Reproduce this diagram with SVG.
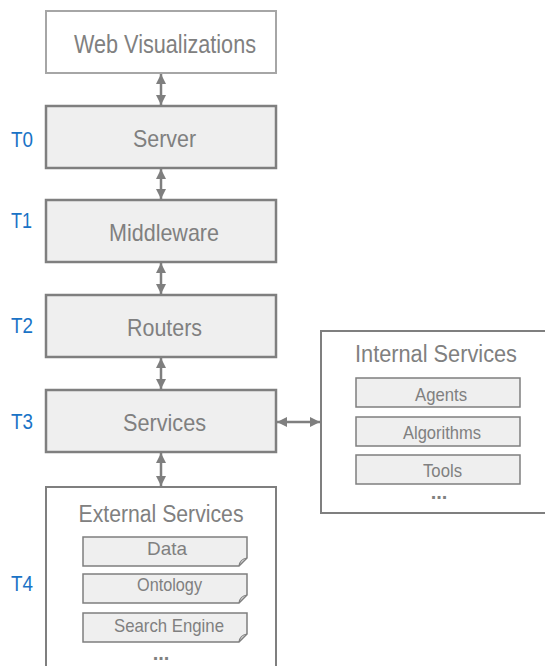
<svg xmlns="http://www.w3.org/2000/svg" width="545" height="666" viewBox="0 0 545 666">
  <style>
    .box { fill: #efefef; stroke: #7f7f7f; stroke-width: 2.5; }
    .frame { fill: #ffffff; stroke: #7f7f7f; stroke-width: 2; }
    .item { fill: #efefef; stroke: #7f7f7f; stroke-width: 1.5; }
    .fold { fill: none; stroke: #7f7f7f; stroke-width: 1.2; }
    .label { font-family: "Liberation Sans", Arial, sans-serif; fill: #808080; text-anchor: middle; }
    .tier { font-family: "Liberation Sans", Arial, sans-serif; fill: #1a73c6; font-size: 22px; }
    .conn { stroke: #7f7f7f; stroke-width: 2.5; fill: none; marker-start: url(#head); marker-end: url(#head); }
  </style>
  <defs>
    <marker id="head" viewBox="0 0 10 10" refX="10" refY="5" markerWidth="4" markerHeight="4" orient="auto-start-reverse" markerUnits="strokeWidth">
      <path d="M0,0 L10,5 L0,10 Z" fill="#7f7f7f"/>
    </marker>
  </defs>

  <!-- tier labels -->
  <g id="tiers">
    <text class="tier" x="11" y="147" textLength="22" lengthAdjust="spacingAndGlyphs">T0</text>
    <text class="tier" x="11" y="228" textLength="21" lengthAdjust="spacingAndGlyphs">T1</text>
    <text class="tier" x="11" y="333" textLength="22" lengthAdjust="spacingAndGlyphs">T2</text>
    <text class="tier" x="11" y="429" textLength="22" lengthAdjust="spacingAndGlyphs">T3</text>
    <text class="tier" x="11" y="591" textLength="22" lengthAdjust="spacingAndGlyphs">T4</text>
  </g>

  <!-- connectors -->
  <g id="connectors">
    <line class="conn" x1="161" y1="74" x2="161" y2="105"/>
    <line class="conn" x1="161" y1="169" x2="161" y2="199"/>
    <line class="conn" x1="161" y1="263" x2="161" y2="294"/>
    <line class="conn" x1="161" y1="358" x2="161" y2="389"/>
    <line class="conn" x1="161" y1="453" x2="161" y2="486"/>
    <line class="conn" x1="277" y1="422" x2="320" y2="422"/>
  </g>

  <g id="web">
    <rect x="46" y="11" width="230" height="62" fill="#ffffff" stroke="#a6a6a6" stroke-width="2"/>
    <text class="label" x="165" y="53" font-size="26" textLength="182" lengthAdjust="spacingAndGlyphs">Web Visualizations</text>
  </g>

  <g id="server">
    <rect class="box" x="46" y="106" width="230" height="62"/>
    <text class="label" x="164.5" y="147" font-size="24" textLength="63" lengthAdjust="spacingAndGlyphs">Server</text>
  </g>

  <g id="middleware">
    <rect class="box" x="46" y="200" width="230" height="62"/>
    <text class="label" x="164" y="241" font-size="24" textLength="110" lengthAdjust="spacingAndGlyphs">Middleware</text>
  </g>

  <g id="routers">
    <rect class="box" x="46" y="295" width="230" height="62"/>
    <text class="label" x="164.5" y="336" font-size="24" textLength="75" lengthAdjust="spacingAndGlyphs">Routers</text>
  </g>

  <g id="services">
    <rect class="box" x="46" y="390" width="230" height="62"/>
    <text class="label" x="164.5" y="431" font-size="24" textLength="83" lengthAdjust="spacingAndGlyphs">Services</text>
  </g>

  <g id="internal-services">
    <rect class="frame" x="321" y="331" width="240" height="182"/>
    <text class="label" x="436" y="362" font-size="23" textLength="162" lengthAdjust="spacingAndGlyphs">Internal Services</text>
    <rect class="item" x="356" y="378" width="164" height="29"/>
    <text class="label" x="441" y="401" font-size="19" textLength="52" lengthAdjust="spacingAndGlyphs">Agents</text>
    <rect class="item" x="356" y="417" width="164" height="29"/>
    <text class="label" x="442" y="439" font-size="19" textLength="78" lengthAdjust="spacingAndGlyphs">Algorithms</text>
    <rect class="item" x="356" y="455" width="164" height="29"/>
    <text class="label" x="442.5" y="477" font-size="19" textLength="39" lengthAdjust="spacingAndGlyphs">Tools</text>
    <text class="label" x="439" y="499" font-size="20" font-weight="bold">...</text>
  </g>

  <g id="external-services">
    <rect class="frame" x="46" y="487" width="230" height="200"/>
    <text class="label" x="161" y="522" font-size="23" textLength="165" lengthAdjust="spacingAndGlyphs">External Services</text>
    <path class="item" d="M83,537 H247 V558 L239,566 H83 Z"/>
    <path class="fold" d="M239,566 Q240,559 247,558"/>
    <text class="label" x="167" y="555" font-size="19" textLength="40" lengthAdjust="spacingAndGlyphs">Data</text>
    <path class="item" d="M83,574 H247 V595 L239,603 H83 Z"/>
    <path class="fold" d="M239,603 Q240,596 247,595"/>
    <text class="label" x="169.5" y="591" font-size="19" textLength="65" lengthAdjust="spacingAndGlyphs">Ontology</text>
    <path class="item" d="M83,613 H247 V634 L239,642 H83 Z"/>
    <path class="fold" d="M239,642 Q240,635 247,634"/>
    <text class="label" x="169" y="631.5" font-size="19" textLength="110" lengthAdjust="spacingAndGlyphs">Search Engine</text>
    <text class="label" x="161" y="660" font-size="20" font-weight="bold">...</text>
  </g>
</svg>
